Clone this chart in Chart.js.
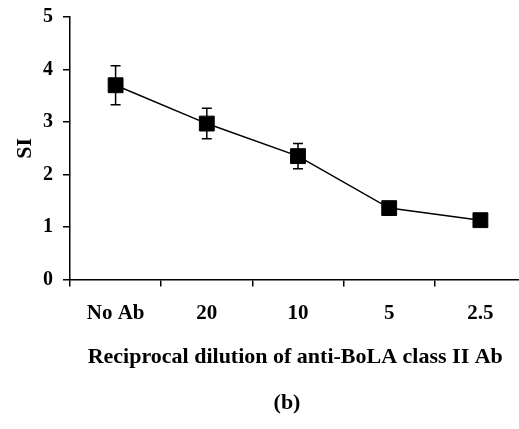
<!DOCTYPE html>
<html>
<head>
<meta charset="utf-8">
<script src="https://cdn.jsdelivr.net/npm/chart.js@4.4.0/dist/chart.umd.min.js"></script>
<style>
  html, body { margin: 0; padding: 0; background: #fff; overflow: hidden; }
</style>
</head>
<body>
<canvas id="chart" width="526" height="429"></canvas>
<script>
// --- DATA ---
const categories = ['No Ab', '20', '10', '5', '2.5'];
const siValues = [3.70, 2.97, 2.35, 1.36, 1.13];
const siErrors = [0.37, 0.29, 0.24, 0.06, 0.06];
const yTicks = [0, 1, 2, 3, 4, 5];

const serif = '"Liberation Serif", "Times New Roman", serif';

// error bars drawn behind the squares
const errorBars = {
  id: 'errorBars',
  beforeDatasetsDraw(chart) {
    const ctx = chart.ctx;
    const y = chart.scales.y;
    const meta = chart.getDatasetMeta(0);
    ctx.save();
    ctx.strokeStyle = '#000';
    ctx.lineWidth = 1.5;
    meta.data.forEach((pt, i) => {
      const top = y.getPixelForValue(siValues[i] + siErrors[i]);
      const bot = y.getPixelForValue(siValues[i] - siErrors[i]);
      ctx.beginPath();
      ctx.moveTo(pt.x, top); ctx.lineTo(pt.x, bot);
      ctx.moveTo(pt.x - 5, top); ctx.lineTo(pt.x + 5, top);
      ctx.moveTo(pt.x - 5, bot); ctx.lineTo(pt.x + 5, bot);
      ctx.stroke();
    });
    ctx.restore();
  }
};

new Chart(document.getElementById('chart'), {
  type: 'line',
  data: {
    labels: categories,
    datasets: [{
      data: siValues,
      borderColor: '#000',
      borderWidth: 1.5,
      backgroundColor: '#000',
      pointStyle: 'rect',
      pointRadius: 10.5,
      pointBorderWidth: 1,
      pointBackgroundColor: '#000',
      pointBorderColor: '#000',
      tension: 0
    }]
  },
  options: {
    responsive: false,
    animation: false,
    layout: { autoPadding: false, padding: { top: 17, right: 0, bottom: 14, left: 0 } },
    plugins: { legend: { display: false }, tooltip: { enabled: false } },
    scales: {
      x: {
        offset: true,
        afterFit: scale => { scale.paddingLeft = 0; scale.paddingRight = 0; },
        grid: { offset: true, drawOnChartArea: false, color: '#000', tickLength: 7, lineWidth: 1.5 },
        border: { color: '#000', width: 1.5 },
        ticks: { color: '#000', padding: 14, font: { family: serif, size: 21, weight: 'bold' } },
        title: {
          display: true,
          text: ['Reciprocal dilution of anti-BoLA class II Ab ', '', '(b)    '],
          color: '#000',
          font: { family: serif, size: 22, weight: 'bold', lineHeight: 1.05 },
          padding: { top: 6, bottom: 0 }
        }
      },
      y: {
        min: 0,
        max: 5,
        afterBuildTicks: scale => { scale.ticks = yTicks.map(v => ({ value: v })); },
        afterFit: scale => { scale.width = 70; scale.paddingTop = 0; scale.paddingBottom = 0; },
        grid: { drawOnChartArea: false, color: '#000', tickLength: 7, lineWidth: 1.5 },
        border: { color: '#000', width: 1.5 },
        ticks: { color: '#000', padding: 10, font: { family: serif, size: 20, weight: 'bold' } },
        title: {
          display: true,
          text: 'SI',
          color: '#000',
          font: { family: serif, size: 22, weight: 'bold' },
          padding: { top: 12, bottom: 0 }
        }
      }
    }
  },
  plugins: [errorBars]
});
</script>
</body>
</html>
